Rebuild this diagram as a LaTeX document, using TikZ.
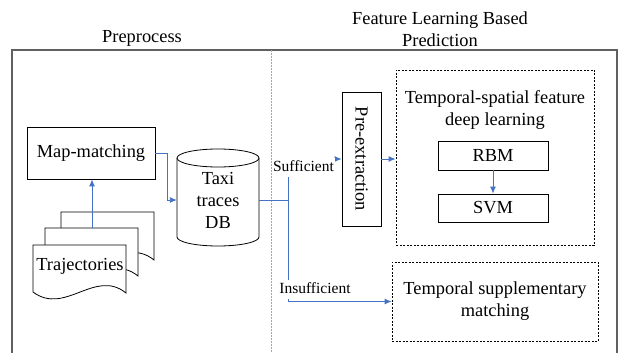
\documentclass[tikz,border=0pt]{standalone}
\usepackage{fontspec}
\setmainfont{Liberation Serif}
\usetikzlibrary{arrows.meta}
\definecolor{connc}{HTML}{4472C4}
\definecolor{sepc}{HTML}{7FAEE6}
\definecolor{framec}{HTML}{606060}
\newcommand{\trajdoc}[2]{%
  \draw[line width=0.8pt,fill=white,shift={(#1,#2)}]
    (0,0) -- (93,0) -- (93,48) .. controls (62,23) and (32,71) .. (0,47) -- cycle;}
\begin{document}
\begin{tikzpicture}[x=1pt,y=-1pt,
  big/.style={font=\fontsize{18.4}{22}\selectfont},
  small/.style={font=\fontsize{15.5}{18}\selectfont},
  box/.style={draw=black,line width=0.8pt,inner sep=0pt,big},
  dbox/.style={draw=black,line width=0.8pt,dash pattern=on 2pt off 1.5pt,inner sep=0pt},
  conn/.style={draw=connc,line width=0.9pt},
  arr/.style={conn,-{Latex[length=7pt,width=6pt]}},
  lab/.style={small,fill=white,inner sep=1pt,text height=13pt,text depth=4pt},
]
\useasboundingbox (0,0) rectangle (619,353);
% frame
\draw[framec,line width=1.2pt] (12,353) -- (12,50) -- (617,50) -- (617,353);
% headers
\node[big] (h1) at (142,38) {Preprocess};
\node[big,align=center] (h2) at (440,29) {Feature Learning Based\\Prediction};
% trajectories documents
\trajdoc{61}{212}
\trajdoc{45}{228}
\trajdoc{33}{245}
\node[big,inner sep=0pt] (traj) at (80,266) {Trajectories};
\coordinate (mtop) at (92,228);
% map matching
\node[box,minimum width=128pt,minimum height=52pt] (map) at (91,153) {Map-matching};
% database cylinder
\draw[line width=0.8pt,fill=white] (177,158) -- (177,237)
  arc[start angle=180,end angle=360,x radius=41pt,y radius=9pt] -- (259,158);
\draw[line width=0.8pt,fill=white] (218,158) ellipse[x radius=41pt,y radius=9pt];
\node[big,align=center,inner sep=0pt,minimum width=82pt] (db) at (218,200) {Taxi\\traces\\DB};
% right part
\node[box,minimum width=39pt,minimum height=134pt] (pre) at (361.5,159) {};
\node[big,rotate=-90] (pretext) at (pre.center) {Pre-extraction};
\node[dbox,minimum width=198pt,minimum height=175pt] (ts) at (495,157.5) {};
\node[big,align=center] (tstitle) at (495,110.5) {Temporal-spatial feature\\deep learning};
\node[box,minimum width=110pt,minimum height=29pt] (rbm) at (493,155.5) {RBM};
\node[box,minimum width=110pt,minimum height=28pt] (svm) at (493,208) {SVM};
\node[dbox,big,align=center,minimum width=206pt,minimum height=79pt] (sup) at (495,301.5) {Temporal supplementary\\matching};
% separator
\draw[sepc,line width=1pt,dash pattern=on 2pt off 1pt] (271,50) -- (271,353);
% connectors
\draw[arr] (mtop) -- (mtop |- map.south);
\draw[arr] (map.east) -- ++(12,0) |- (db.west);
\draw[conn] (db.east) -- ++(29,0) coordinate (br);
\draw[arr] (br) |- (pre.west);
\draw[arr] (br) |- (sup.west);
\draw[arr] (pre.east) -- (pre.east -| ts.west);
\draw[arr] (rbm.south) -- (svm.north);
% labels
\node[lab] (suf) at (303.5,167) {Sufficient};
\node[lab] (insuf) at (315,289) {Insufficient};
\end{tikzpicture}
\end{document}
